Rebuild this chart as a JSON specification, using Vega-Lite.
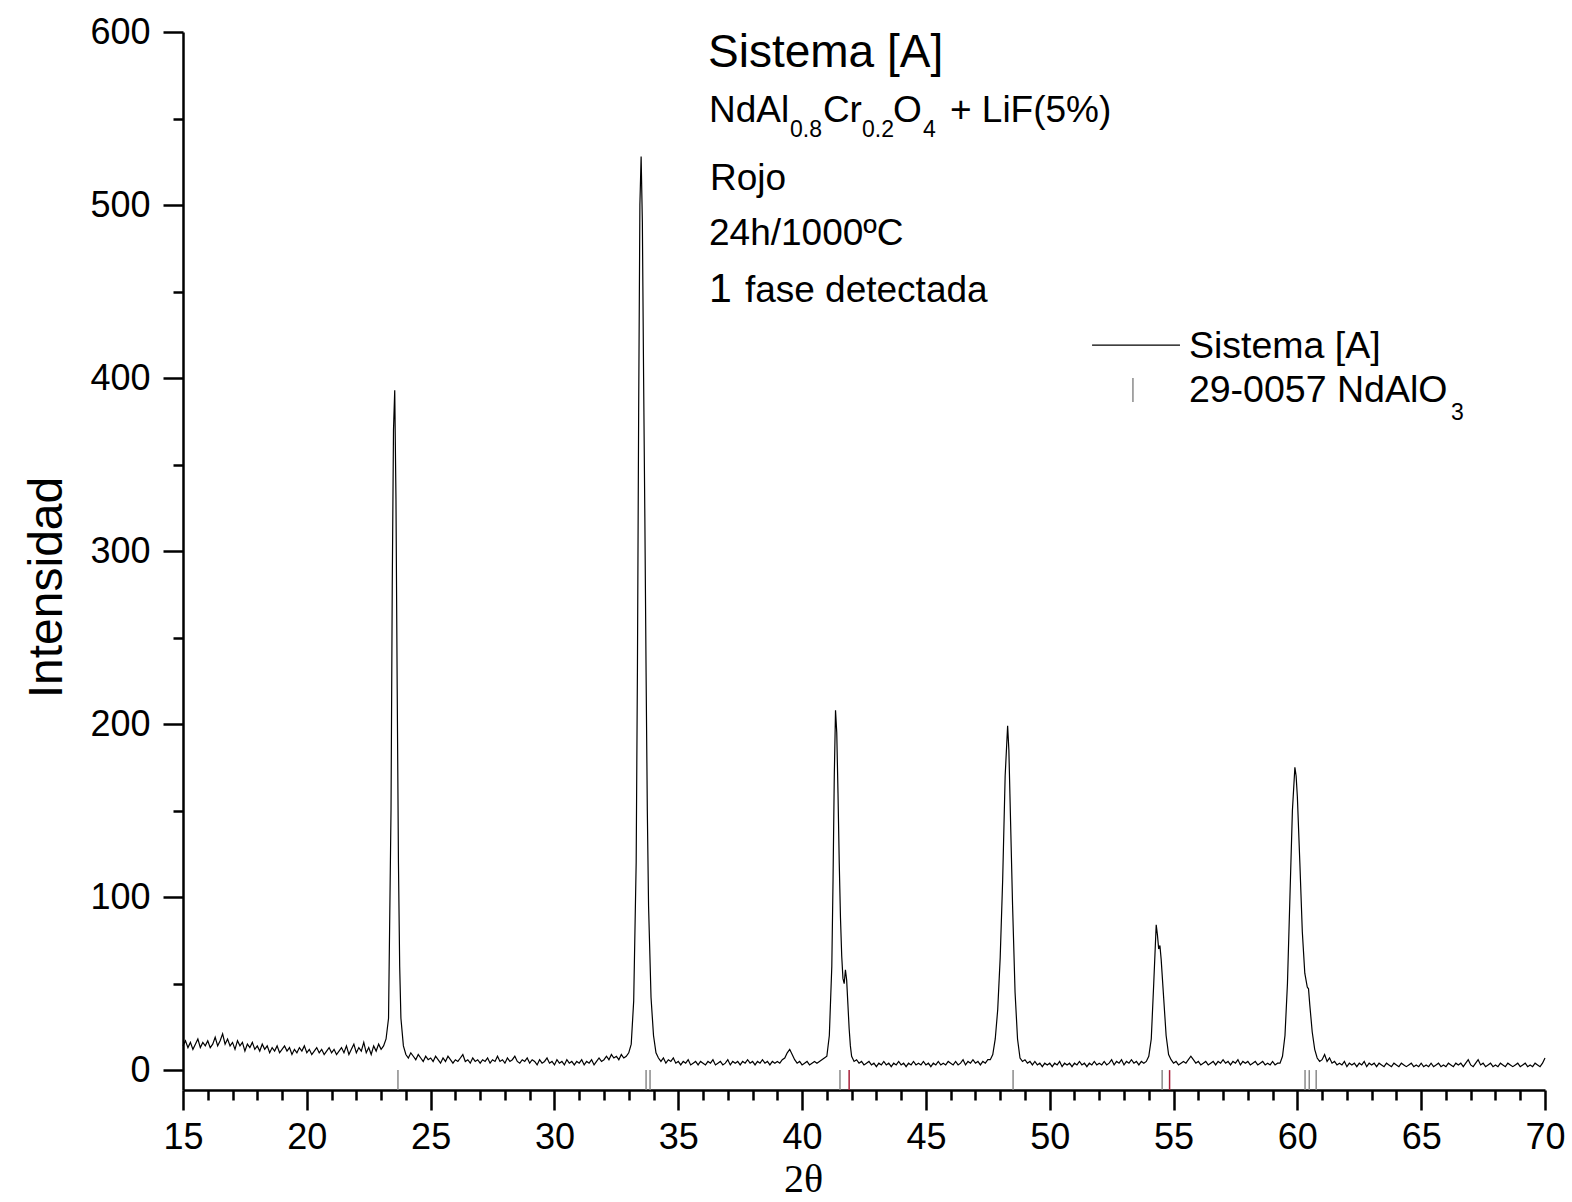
{
"$schema":"https://vega.github.io/schema/vega-lite/v6.json",
"autosize":{"type":"none"},
"width":1362,"height":1058,
"padding":{"left":183,"top":32,"right":27,"bottom":112},
"background":"white",
"config":{"view":{"stroke":null},"font":"Liberation Sans"},
"datasets":{
"xrd":[
{"t":15.0,"i":14},{"t":15.1,"i":17},{"t":15.2,"i":13},{"t":15.3,"i":16},{"t":15.4,"i":12},{"t":15.5,"i":15},{"t":15.6,"i":18},{"t":15.7,"i":13},{"t":15.8,"i":16},{"t":15.9,"i":14},
{"t":16.0,"i":17},{"t":16.1,"i":13},{"t":16.2,"i":15},{"t":16.3,"i":19},{"t":16.4,"i":14},{"t":16.5,"i":17},{"t":16.6,"i":21},{"t":16.7,"i":15},{"t":16.8,"i":18},{"t":16.9,"i":14},
{"t":17.0,"i":16},{"t":17.1,"i":12},{"t":17.2,"i":17},{"t":17.3,"i":14},{"t":17.4,"i":16},{"t":17.5,"i":11},{"t":17.6,"i":15},{"t":17.7,"i":13},{"t":17.8,"i":16},{"t":17.9,"i":12},
{"t":18.0,"i":14},{"t":18.1,"i":11},{"t":18.2,"i":15},{"t":18.3,"i":12},{"t":18.4,"i":14},{"t":18.5,"i":10},{"t":18.6,"i":13},{"t":18.7,"i":11},{"t":18.8,"i":14},{"t":18.9,"i":10},
{"t":19.0,"i":12},{"t":19.1,"i":14},{"t":19.2,"i":11},{"t":19.3,"i":13},{"t":19.4,"i":9},{"t":19.5,"i":12},{"t":19.6,"i":10},{"t":19.7,"i":13},{"t":19.8,"i":11},{"t":19.9,"i":14},
{"t":20.0,"i":10},{"t":20.1,"i":12},{"t":20.2,"i":9},{"t":20.3,"i":11},{"t":20.4,"i":13},{"t":20.5,"i":10},{"t":20.6,"i":12},{"t":20.7,"i":9},{"t":20.8,"i":11},{"t":20.9,"i":13},
{"t":21.0,"i":10},{"t":21.1,"i":12},{"t":21.2,"i":9},{"t":21.3,"i":11},{"t":21.4,"i":13},{"t":21.5,"i":10},{"t":21.6,"i":14},{"t":21.7,"i":9},{"t":21.8,"i":12},{"t":21.9,"i":15},
{"t":22.0,"i":10},{"t":22.1,"i":13},{"t":22.2,"i":11},{"t":22.3,"i":16},{"t":22.4,"i":10},{"t":22.5,"i":13},{"t":22.6,"i":9},{"t":22.7,"i":14},{"t":22.8,"i":11},{"t":22.9,"i":15},
{"t":23.0,"i":12},{"t":23.1,"i":14},{"t":23.2,"i":18},{"t":23.3,"i":30},{"t":23.4,"i":150},{"t":23.45,"i":280},{"t":23.5,"i":370},{"t":23.55,"i":393},{"t":23.6,"i":330},{"t":23.65,"i":220},{"t":23.7,"i":120},{"t":23.75,"i":60},{"t":23.8,"i":30},{"t":23.9,"i":14},
{"t":24.0,"i":9},{"t":24.1,"i":7},{"t":24.2,"i":10},{"t":24.3,"i":8},{"t":24.4,"i":6},{"t":24.5,"i":9},{"t":24.6,"i":7},{"t":24.7,"i":5},{"t":24.8,"i":8},{"t":24.9,"i":6},
{"t":25.0,"i":7},{"t":25.1,"i":5},{"t":25.2,"i":8},{"t":25.3,"i":6},{"t":25.4,"i":4},{"t":25.5,"i":7},{"t":25.6,"i":5},{"t":25.7,"i":8},{"t":25.8,"i":6},{"t":25.9,"i":4},
{"t":26.0,"i":6},{"t":26.1,"i":5},{"t":26.2,"i":7},{"t":26.3,"i":9},{"t":26.4,"i":5},{"t":26.5,"i":6},{"t":26.6,"i":4},{"t":26.7,"i":7},{"t":26.8,"i":5},{"t":26.9,"i":6},
{"t":27.0,"i":4},{"t":27.1,"i":6},{"t":27.2,"i":5},{"t":27.3,"i":7},{"t":27.4,"i":4},{"t":27.5,"i":6},{"t":27.6,"i":5},{"t":27.7,"i":8},{"t":27.8,"i":5},{"t":27.9,"i":6},
{"t":28.0,"i":4},{"t":28.1,"i":7},{"t":28.2,"i":5},{"t":28.3,"i":6},{"t":28.4,"i":8},{"t":28.5,"i":5},{"t":28.6,"i":4},{"t":28.7,"i":6},{"t":28.8,"i":5},{"t":28.9,"i":7},
{"t":29.0,"i":4},{"t":29.1,"i":6},{"t":29.2,"i":5},{"t":29.3,"i":3},{"t":29.4,"i":6},{"t":29.5,"i":4},{"t":29.6,"i":5},{"t":29.7,"i":7},{"t":29.8,"i":4},{"t":29.9,"i":5},
{"t":30.0,"i":3},{"t":30.1,"i":6},{"t":30.2,"i":4},{"t":30.3,"i":5},{"t":30.4,"i":3},{"t":30.5,"i":6},{"t":30.6,"i":4},{"t":30.7,"i":5},{"t":30.8,"i":3},{"t":30.9,"i":5},
{"t":31.0,"i":4},{"t":31.1,"i":6},{"t":31.2,"i":3},{"t":31.3,"i":5},{"t":31.4,"i":4},{"t":31.5,"i":6},{"t":31.6,"i":3},{"t":31.7,"i":5},{"t":31.8,"i":7},{"t":31.9,"i":5},
{"t":32.0,"i":6},{"t":32.1,"i":8},{"t":32.2,"i":6},{"t":32.3,"i":9},{"t":32.4,"i":7},{"t":32.5,"i":8},{"t":32.6,"i":6},{"t":32.7,"i":9},{"t":32.8,"i":7},{"t":32.9,"i":8},
{"t":33.0,"i":10},{"t":33.1,"i":15},{"t":33.2,"i":40},{"t":33.3,"i":120},{"t":33.35,"i":230},{"t":33.4,"i":380},{"t":33.45,"i":500},{"t":33.5,"i":528},{"t":33.55,"i":490},{"t":33.6,"i":400},{"t":33.65,"i":320},{"t":33.7,"i":230},{"t":33.75,"i":150},{"t":33.8,"i":95},{"t":33.9,"i":42},
{"t":34.0,"i":20},{"t":34.1,"i":10},{"t":34.2,"i":7},{"t":34.3,"i":5},{"t":34.4,"i":7},{"t":34.5,"i":4},{"t":34.6,"i":6},{"t":34.7,"i":5},{"t":34.8,"i":7},{"t":34.9,"i":4},
{"t":35.0,"i":5},{"t":35.1,"i":3},{"t":35.2,"i":5},{"t":35.3,"i":4},{"t":35.4,"i":6},{"t":35.5,"i":3},{"t":35.6,"i":4},{"t":35.7,"i":5},{"t":35.8,"i":3},{"t":35.9,"i":5},
{"t":36.0,"i":4},{"t":36.1,"i":3},{"t":36.2,"i":5},{"t":36.3,"i":4},{"t":36.4,"i":6},{"t":36.5,"i":3},{"t":36.6,"i":4},{"t":36.7,"i":5},{"t":36.8,"i":3},{"t":36.9,"i":4},
{"t":37.0,"i":6},{"t":37.1,"i":3},{"t":37.2,"i":5},{"t":37.3,"i":4},{"t":37.4,"i":5},{"t":37.5,"i":3},{"t":37.6,"i":5},{"t":37.7,"i":4},{"t":37.8,"i":6},{"t":37.9,"i":4},
{"t":38.0,"i":5},{"t":38.1,"i":3},{"t":38.2,"i":5},{"t":38.3,"i":4},{"t":38.4,"i":6},{"t":38.5,"i":4},{"t":38.6,"i":5},{"t":38.7,"i":3},{"t":38.8,"i":5},{"t":38.9,"i":4},
{"t":39.0,"i":5},{"t":39.1,"i":4},{"t":39.2,"i":6},{"t":39.3,"i":7},{"t":39.4,"i":10},{"t":39.5,"i":12},{"t":39.6,"i":9},{"t":39.7,"i":6},{"t":39.8,"i":4},{"t":39.9,"i":5},
{"t":40.0,"i":3},{"t":40.1,"i":4},{"t":40.2,"i":5},{"t":40.3,"i":3},{"t":40.4,"i":4},{"t":40.5,"i":5},{"t":40.6,"i":4},{"t":40.7,"i":5},{"t":40.8,"i":6},{"t":40.9,"i":7},
{"t":41.0,"i":8},{"t":41.1,"i":20},{"t":41.2,"i":60},{"t":41.25,"i":110},{"t":41.3,"i":170},{"t":41.35,"i":208},{"t":41.4,"i":195},{"t":41.45,"i":160},{"t":41.5,"i":120},{"t":41.55,"i":88},{"t":41.6,"i":66},{"t":41.65,"i":53},{"t":41.7,"i":50},{"t":41.75,"i":58},{"t":41.8,"i":52},{"t":41.85,"i":38},{"t":41.9,"i":24},{"t":41.95,"i":14},
{"t":42.0,"i":8},{"t":42.1,"i":5},{"t":42.2,"i":6},{"t":42.3,"i":4},{"t":42.4,"i":5},{"t":42.5,"i":3},{"t":42.6,"i":4},{"t":42.7,"i":5},{"t":42.8,"i":3},{"t":42.9,"i":4},
{"t":43.0,"i":2},{"t":43.1,"i":4},{"t":43.2,"i":3},{"t":43.3,"i":5},{"t":43.4,"i":3},{"t":43.5,"i":4},{"t":43.6,"i":2},{"t":43.7,"i":4},{"t":43.8,"i":3},{"t":43.9,"i":5},
{"t":44.0,"i":3},{"t":44.1,"i":4},{"t":44.2,"i":2},{"t":44.3,"i":4},{"t":44.4,"i":3},{"t":44.5,"i":5},{"t":44.6,"i":3},{"t":44.7,"i":4},{"t":44.8,"i":3},{"t":44.9,"i":5},
{"t":45.0,"i":3},{"t":45.1,"i":4},{"t":45.2,"i":2},{"t":45.3,"i":4},{"t":45.4,"i":3},{"t":45.5,"i":5},{"t":45.6,"i":3},{"t":45.7,"i":4},{"t":45.8,"i":3},{"t":45.9,"i":5},
{"t":46.0,"i":4},{"t":46.1,"i":3},{"t":46.2,"i":5},{"t":46.3,"i":3},{"t":46.4,"i":4},{"t":46.5,"i":6},{"t":46.6,"i":3},{"t":46.7,"i":5},{"t":46.8,"i":4},{"t":46.9,"i":6},
{"t":47.0,"i":4},{"t":47.1,"i":5},{"t":47.2,"i":3},{"t":47.3,"i":5},{"t":47.4,"i":4},{"t":47.5,"i":6},{"t":47.6,"i":6},{"t":47.7,"i":9},{"t":47.8,"i":18},{"t":47.9,"i":35},
{"t":48.0,"i":65},{"t":48.1,"i":110},{"t":48.2,"i":170},{"t":48.3,"i":199},{"t":48.35,"i":185},{"t":48.4,"i":155},{"t":48.5,"i":95},{"t":48.6,"i":45},{"t":48.7,"i":18},{"t":48.8,"i":7},{"t":48.9,"i":5},
{"t":49.0,"i":6},{"t":49.1,"i":4},{"t":49.2,"i":5},{"t":49.3,"i":3},{"t":49.4,"i":5},{"t":49.5,"i":3},{"t":49.6,"i":4},{"t":49.7,"i":2},{"t":49.8,"i":4},{"t":49.9,"i":3},
{"t":50.0,"i":4},{"t":50.1,"i":2},{"t":50.2,"i":4},{"t":50.3,"i":3},{"t":50.4,"i":5},{"t":50.5,"i":2},{"t":50.6,"i":4},{"t":50.7,"i":3},{"t":50.8,"i":4},{"t":50.9,"i":2},
{"t":51.0,"i":4},{"t":51.1,"i":3},{"t":51.2,"i":5},{"t":51.3,"i":3},{"t":51.4,"i":4},{"t":51.5,"i":2},{"t":51.6,"i":4},{"t":51.7,"i":3},{"t":51.8,"i":5},{"t":51.9,"i":3},
{"t":52.0,"i":4},{"t":52.1,"i":3},{"t":52.2,"i":5},{"t":52.3,"i":3},{"t":52.4,"i":4},{"t":52.5,"i":6},{"t":52.6,"i":3},{"t":52.7,"i":5},{"t":52.8,"i":4},{"t":52.9,"i":6},
{"t":53.0,"i":3},{"t":53.1,"i":5},{"t":53.2,"i":4},{"t":53.3,"i":6},{"t":53.4,"i":4},{"t":53.5,"i":5},{"t":53.6,"i":3},{"t":53.7,"i":5},{"t":53.8,"i":4},{"t":53.9,"i":5},
{"t":54.0,"i":8},{"t":54.1,"i":18},{"t":54.2,"i":50},{"t":54.3,"i":84},{"t":54.35,"i":78},{"t":54.4,"i":70},{"t":54.45,"i":72},{"t":54.5,"i":64},{"t":54.6,"i":42},{"t":54.7,"i":20},{"t":54.8,"i":9},{"t":54.9,"i":6},
{"t":55.0,"i":4},{"t":55.1,"i":5},{"t":55.2,"i":3},{"t":55.3,"i":4},{"t":55.4,"i":5},{"t":55.5,"i":4},{"t":55.6,"i":6},{"t":55.7,"i":8},{"t":55.8,"i":6},{"t":55.9,"i":4},
{"t":56.0,"i":5},{"t":56.1,"i":3},{"t":56.2,"i":4},{"t":56.3,"i":5},{"t":56.4,"i":3},{"t":56.5,"i":4},{"t":56.6,"i":5},{"t":56.7,"i":3},{"t":56.8,"i":5},{"t":56.9,"i":4},
{"t":57.0,"i":6},{"t":57.1,"i":4},{"t":57.2,"i":5},{"t":57.3,"i":3},{"t":57.4,"i":5},{"t":57.5,"i":4},{"t":57.6,"i":6},{"t":57.7,"i":3},{"t":57.8,"i":5},{"t":57.9,"i":4},
{"t":58.0,"i":5},{"t":58.1,"i":3},{"t":58.2,"i":4},{"t":58.3,"i":5},{"t":58.4,"i":3},{"t":58.5,"i":4},{"t":58.6,"i":5},{"t":58.7,"i":3},{"t":58.8,"i":4},{"t":58.9,"i":3},
{"t":59.0,"i":5},{"t":59.1,"i":3},{"t":59.2,"i":4},{"t":59.3,"i":4},{"t":59.4,"i":8},{"t":59.5,"i":20},{"t":59.6,"i":50},{"t":59.7,"i":100},{"t":59.8,"i":150},{"t":59.9,"i":175},{"t":59.95,"i":170},
{"t":60.0,"i":158},{"t":60.1,"i":120},{"t":60.2,"i":80},{"t":60.3,"i":56},{"t":60.4,"i":48},{"t":60.45,"i":47},{"t":60.5,"i":38},{"t":60.6,"i":22},{"t":60.7,"i":12},{"t":60.8,"i":7},{"t":60.9,"i":5},
{"t":61.0,"i":6},{"t":61.1,"i":9},{"t":61.2,"i":5},{"t":61.3,"i":7},{"t":61.4,"i":4},{"t":61.5,"i":5},{"t":61.6,"i":3},{"t":61.7,"i":4},{"t":61.8,"i":3},{"t":61.9,"i":5},
{"t":62.0,"i":2},{"t":62.1,"i":4},{"t":62.2,"i":3},{"t":62.3,"i":4},{"t":62.4,"i":2},{"t":62.5,"i":4},{"t":62.6,"i":3},{"t":62.7,"i":5},{"t":62.8,"i":2},{"t":62.9,"i":4},
{"t":63.0,"i":3},{"t":63.1,"i":4},{"t":63.2,"i":2},{"t":63.3,"i":4},{"t":63.4,"i":3},{"t":63.5,"i":2},{"t":63.6,"i":4},{"t":63.7,"i":3},{"t":63.8,"i":2},{"t":63.9,"i":4},
{"t":64.0,"i":3},{"t":64.1,"i":2},{"t":64.2,"i":4},{"t":64.3,"i":3},{"t":64.4,"i":2},{"t":64.5,"i":3},{"t":64.6,"i":4},{"t":64.7,"i":2},{"t":64.8,"i":3},{"t":64.9,"i":2},
{"t":65.0,"i":4},{"t":65.1,"i":2},{"t":65.2,"i":3},{"t":65.3,"i":2},{"t":65.4,"i":4},{"t":65.5,"i":2},{"t":65.6,"i":3},{"t":65.7,"i":4},{"t":65.8,"i":2},{"t":65.9,"i":3},
{"t":66.0,"i":2},{"t":66.1,"i":4},{"t":66.2,"i":3},{"t":66.3,"i":2},{"t":66.4,"i":4},{"t":66.5,"i":3},{"t":66.6,"i":4},{"t":66.7,"i":2},{"t":66.8,"i":4},{"t":66.9,"i":6},
{"t":67.0,"i":3},{"t":67.1,"i":2},{"t":67.2,"i":4},{"t":67.3,"i":6},{"t":67.4,"i":3},{"t":67.5,"i":4},{"t":67.6,"i":2},{"t":67.7,"i":3},{"t":67.8,"i":4},{"t":67.9,"i":2},
{"t":68.0,"i":3},{"t":68.1,"i":2},{"t":68.2,"i":4},{"t":68.3,"i":3},{"t":68.4,"i":2},{"t":68.5,"i":4},{"t":68.6,"i":3},{"t":68.7,"i":2},{"t":68.8,"i":3},{"t":68.9,"i":4},
{"t":69.0,"i":2},{"t":69.1,"i":3},{"t":69.2,"i":4},{"t":69.3,"i":2},{"t":69.4,"i":3},{"t":69.5,"i":2},{"t":69.6,"i":4},{"t":69.7,"i":3},{"t":69.8,"i":2},{"t":69.9,"i":4},{"t":70.0,"i":7}
],
"ref":[
{"t":23.68,"grupo":"a"},{"t":33.70,"grupo":"a"},{"t":33.86,"grupo":"a"},{"t":41.53,"grupo":"a"},{"t":41.90,"grupo":"b"},{"t":48.52,"grupo":"a"},{"t":54.54,"grupo":"a"},{"t":54.84,"grupo":"b"},{"t":60.31,"grupo":"a"},{"t":60.48,"grupo":"a"},{"t":60.76,"grupo":"a"}
],
"anot":[
{"t":36.20,"v":579.7,"txt":"Sistema [A]","tipo":"titulo"},
{"t":36.24,"v":547.9,"txt":"NdAl","tipo":"texto"},
{"t":40.84,"v":547.9,"txt":"Cr","tipo":"texto"},
{"t":43.67,"v":547.9,"txt":"O","tipo":"texto"},
{"t":45.97,"v":547.9,"txt":"+ LiF(5%)","tipo":"texto"},
{"t":36.28,"v":508.6,"txt":"Rojo","tipo":"texto"},
{"t":36.24,"v":476.8,"txt":"24h/1000ºC","tipo":"texto"},
{"t":37.69,"v":443.9,"txt":"fase detectada","tipo":"texto"},
{"t":36.24,"v":443.9,"txt":"1","tipo":"grande"},
{"t":39.51,"v":539.2,"txt":"0.8","tipo":"sub"},
{"t":42.42,"v":539.2,"txt":"0.2","tipo":"sub"},
{"t":44.88,"v":539.2,"txt":"4","tipo":"sub"},
{"t":55.62,"v":411.5,"txt":"Sistema [A]","tipo":"leyenda"},
{"t":55.62,"v":386.1,"txt":"29-0057 NdAlO","tipo":"leyenda"},
{"t":66.20,"v":376.0,"txt":"3","tipo":"sub"}
],
"leyLinea":[{"t":51.71,"t2":55.26,"v":419.0}],
"leyMarca":[{"t":53.36,"v":400.0,"v2":386.1}]
},
"resolve":{"axis":{"x":"independent","y":"independent"}},
"layer":[
{"data":{"name":"xrd"},"mark":{"type":"line","color":"black","strokeWidth":1.2,"interpolate":"linear"},
 "encoding":{
  "x":{"field":"t","type":"quantitative","scale":{"domain":[15,70],"nice":false,"zero":false},
   "axis":{"orient":"bottom","values":[15,20,25,30,35,40,45,50,55,60,65,70],"title":"2θ","titleFont":"Liberation Serif","titleFontSize":40,"titleFontWeight":"normal","titleColor":"black","titleX":620,"titleY":101,"titleAlign":"center","titleBaseline":"alphabetic","grid":false,"domainColor":"black","domainWidth":2.5,"tickColor":"black","tickWidth":2.5,"tickSize":20,"labelFontSize":36,"labelColor":"black","labelFont":"Liberation Sans","labelPadding":10,"labelFlush":false,"labelOverlap":false}},
  "y":{"field":"i","type":"quantitative","scale":{"domain":[-11.5,600],"nice":false,"zero":false},
   "axis":{"orient":"left","values":[0,100,200,300,400,500,600],"title":"Intensidad","titleFont":"Liberation Sans","titleFontSize":48,"titleFontWeight":"normal","titleColor":"black","titleAngle":270,"titleX":-122,"titleY":555,"titleAlign":"center","titleBaseline":"alphabetic","grid":false,"domainColor":"black","domainWidth":2.5,"tickColor":"black","tickWidth":2.5,"tickSize":20,"labelFontSize":36,"labelColor":"black","labelFont":"Liberation Sans","labelPadding":13,"labelFlush":false,"labelOverlap":false}}
 }},
{"data":{"name":"ref"},"mark":{"type":"rule","strokeWidth":1.5},
 "encoding":{
  "x":{"field":"t","type":"quantitative","axis":null},
  "y":{"datum":0,"type":"quantitative","axis":null},
  "y2":{"datum":-11.5},
  "color":{"field":"grupo","type":"nominal","scale":{"domain":["a","b"],"range":["#8a8a8a","#a8203a"]},"legend":null}
 }},
{"data":{"name":"anot"},"transform":[{"filter":"datum.tipo==='texto'"}],"mark":{"type":"text","align":"left","baseline":"alphabetic","fontSize":37,"color":"black","font":"Liberation Sans"},
 "encoding":{
  "x":{"field":"t","type":"quantitative",
   "axis":{"orient":"bottom","values":[16,17,18,19,21,22,23,24,26,27,28,29,31,32,33,34,36,37,38,39,41,42,43,44,46,47,48,49,51,52,53,54,56,57,58,59,61,62,63,64,66,67,68,69],"labels":false,"title":null,"grid":false,"domain":false,"tickColor":"black","tickWidth":2.5,"tickSize":10}},
  "y":{"field":"v","type":"quantitative",
   "axis":{"orient":"left","values":[50,150,250,350,450,550],"labels":false,"title":null,"grid":false,"domain":false,"tickColor":"black","tickWidth":2.5,"tickSize":10}},
  "text":{"field":"txt"}
 }},
{"data":{"name":"anot"},"transform":[{"filter":"datum.tipo==='titulo'"}],"mark":{"type":"text","align":"left","baseline":"alphabetic","fontSize":46,"color":"black","font":"Liberation Sans"},
 "encoding":{"x":{"field":"t","type":"quantitative","axis":null},"y":{"field":"v","type":"quantitative","axis":null},"text":{"field":"txt"}}},
{"data":{"name":"anot"},"transform":[{"filter":"datum.tipo==='grande'"}],"mark":{"type":"text","align":"left","baseline":"alphabetic","fontSize":41,"color":"black","font":"Liberation Sans"},
 "encoding":{"x":{"field":"t","type":"quantitative","axis":null},"y":{"field":"v","type":"quantitative","axis":null},"text":{"field":"txt"}}},
{"data":{"name":"anot"},"transform":[{"filter":"datum.tipo==='sub'"}],"mark":{"type":"text","align":"left","baseline":"alphabetic","fontSize":23,"color":"black","font":"Liberation Sans"},
 "encoding":{"x":{"field":"t","type":"quantitative","axis":null},"y":{"field":"v","type":"quantitative","axis":null},"text":{"field":"txt"}}},
{"data":{"name":"anot"},"transform":[{"filter":"datum.tipo==='leyenda'"}],"mark":{"type":"text","align":"left","baseline":"alphabetic","fontSize":37.5,"color":"black","font":"Liberation Sans"},
 "encoding":{"x":{"field":"t","type":"quantitative","axis":null},"y":{"field":"v","type":"quantitative","axis":null},"text":{"field":"txt"}}},
{"data":{"name":"leyLinea"},"mark":{"type":"rule","color":"black","strokeWidth":1.3},
 "encoding":{"x":{"field":"t","type":"quantitative","axis":null},"x2":{"field":"t2"},"y":{"field":"v","type":"quantitative","axis":null}}},
{"data":{"name":"leyMarca"},"mark":{"type":"rule","color":"#8a8a8a","strokeWidth":1.5},
 "encoding":{"x":{"field":"t","type":"quantitative","axis":null},"y":{"field":"v","type":"quantitative","axis":null},"y2":{"field":"v2"}}}
]
}
